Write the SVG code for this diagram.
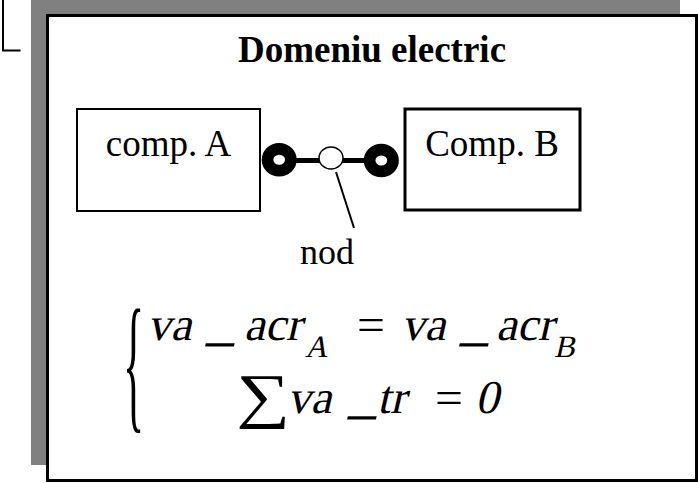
<svg xmlns="http://www.w3.org/2000/svg" width="698" height="483" viewBox="0 0 698 483">
<style>
.t{font-family:"Liberation Serif","Times New Roman",serif;fill:#000}
.m{font-family:"Liberation Serif","Times New Roman",serif;fill:#000;font-size:47px}
.u{font-weight:bold}
.box{fill:#fff;stroke:#000}
</style>
<rect x="31" y="-2" width="649" height="467" fill="#808080"/>
<rect x="47.5" y="15.5" width="649" height="465" fill="#fff" stroke="#000" stroke-width="3"/>
<polyline points="3,0 3,50.5 20.5,50.5" fill="none" stroke="#000" stroke-width="2"/>
<g id="title">
<text class="t" x="372" y="62" font-size="37" font-weight="bold" text-anchor="middle">Domeniu electric</text>
</g>
<g id="compA">
<rect class="box" x="77" y="109" width="183" height="102" stroke-width="2"/>
<text class="t" x="168.5" y="156" font-size="37" text-anchor="middle">comp. A</text>
</g>
<g id="compB">
<rect class="box" x="405" y="109" width="175" height="101" stroke-width="3"/>
<text class="t" x="492" y="156" font-size="37" text-anchor="middle">Comp. B</text>
</g>
<g id="connectors">
<line x1="279" y1="160.5" x2="381" y2="160.5" stroke="#000" stroke-width="5"/>
<ellipse cx="279.2" cy="159.8" rx="11.7" ry="10.9" fill="#fff" stroke="#000" stroke-width="11.7"/>
<ellipse cx="381.3" cy="160.5" rx="11.7" ry="10.9" fill="#fff" stroke="#000" stroke-width="11.7"/>
<line x1="336" y1="172" x2="354" y2="228" stroke="#000" stroke-width="2"/>
</g>
<g id="nod">
<ellipse cx="331" cy="158" rx="12" ry="11" fill="#fff" stroke="#000" stroke-width="1.5"/>
<text class="t" x="327" y="264" font-size="36" text-anchor="middle">nod</text>
</g>
<g id="equation">
<text class="t" font-size="44" transform="translate(123,413) scale(1,3.4)">{</text>
<g transform="translate(0,340) skewX(-13) translate(0,-340)">
<text class="m" y="340"><tspan x="147">va</tspan><tspan class="u" x="207" textLength="28" lengthAdjust="spacingAndGlyphs">_</tspan><tspan x="244">acr</tspan><tspan x="309" y="357" font-size="31">A</tspan></text>
<text class="m" y="340"><tspan x="401">va</tspan><tspan class="u" x="461" textLength="28" lengthAdjust="spacingAndGlyphs">_</tspan><tspan x="496">acr</tspan><tspan x="558" y="357" font-size="31">B</tspan></text>
</g>
<text class="m" x="357" y="340" textLength="28" lengthAdjust="spacingAndGlyphs">=</text>
<text class="t" font-size="56" transform="translate(236,416) scale(1.35,1.08)">∑</text>
<g transform="translate(0,413) skewX(-13) translate(0,-413)">
<text class="m" y="413"><tspan x="287">va</tspan><tspan class="u" x="349" textLength="28" lengthAdjust="spacingAndGlyphs">_</tspan><tspan x="377">tr</tspan><tspan x="475">0</tspan></text>
</g>
<text class="m" x="435" y="413" textLength="28" lengthAdjust="spacingAndGlyphs">=</text>
</g>
</svg>
